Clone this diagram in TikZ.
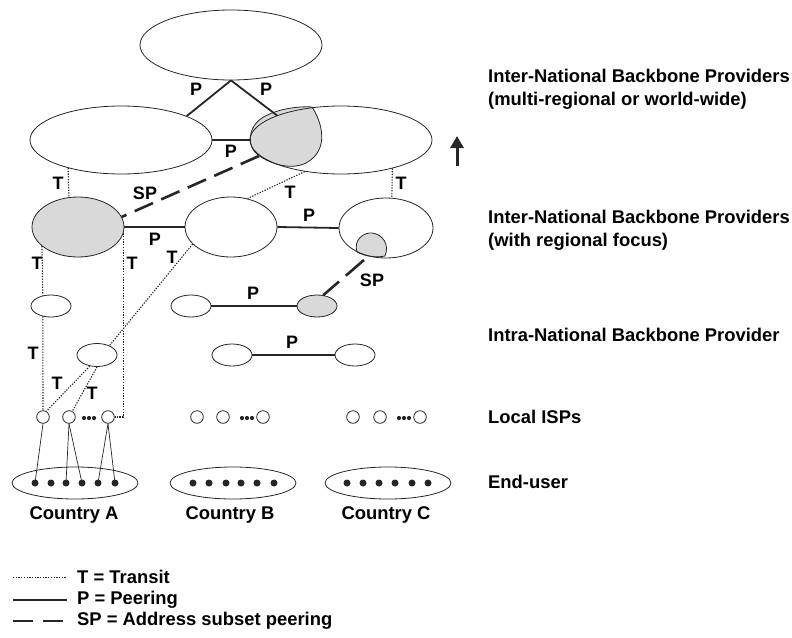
\documentclass[tikz,border=0pt]{standalone}
\usepackage{fontspec}
\setmainfont{Liberation Sans}
\usepackage{tikz}
\usetikzlibrary{shapes.geometric, arrows.meta, positioning, calc}

\definecolor{ink}{HTML}{262626}
\definecolor{shade}{HTML}{D9D9D9}

\begin{document}
\begin{tikzpicture}[
    x=1pt, y=-1pt,
    font=\fontsize{18.4}{23}\selectfont\bfseries,
    prov/.style={ellipse,draw=ink,line width=0.8pt,inner sep=0pt},
    bigprov/.style={prov,minimum width=182pt,minimum height=68pt},
    regprov/.style={prov,minimum width=92pt,minimum height=60pt},
    natprov/.style={prov,minimum width=40pt,minimum height=22pt},
    users/.style={prov,minimum width=126pt,minimum height=32pt},
    isp/.style={circle,draw=ink,line width=0.8pt,minimum size=12.6pt,inner sep=0pt},
    user/.style={circle,fill=ink,minimum size=7pt,inner sep=0pt},
    transit/.style={ink,line width=1.1pt,dash pattern=on 1.3pt off 1.4pt},
    peering/.style={ink,line width=1.8pt},
    subset/.style={ink,line width=2.6pt,dash pattern=on 20pt off 9pt},
    access/.style={ink,line width=0.7pt},
    lbl/.style={inner sep=0pt,font=\fontsize{18}{20}\selectfont\bfseries}
]

\useasboundingbox (0,0) rectangle (792,637);

% Shaded address subsets
\draw[ink,line width=0.8pt,fill=shade] (312,107) .. controls (322,122) and (330,150) .. (306,163)
    .. controls (292,170) and (272,165) .. (258,155) .. controls (247,147) and (247,128) .. (262,118)
    .. controls (276,109) and (298,106) .. (312,107) -- cycle;
\draw[ink,line width=0.8pt,fill=shade] (357,252) .. controls (353,240) and (364,232) .. (372,233)
    .. controls (382,234) and (390,244) .. (385,256) .. controls (376,258) and (364,256) .. (357,252) -- cycle;

% Providers
\node[bigprov,minimum height=70pt] (world) at (231,45) {};
\node[bigprov] (iblA) at (121,140) {};
\node[bigprov] (iblB) at (341,140) {};
\node[regprov,fill=shade] (rgA) at (78,227) {};
\node[regprov] (rgB) at (231,227) {};
\node[regprov,minimum width=94pt] (rgC) at (386,228) {};
\node[natprov] (natA) at (51,306) {};
\node[natprov] (natB1) at (191,306) {};
\node[natprov,fill=shade] (natB2) at (317,306) {};
\node[natprov,minimum height=23pt] (natA2) at (97,355) {};
\node[natprov] (natC1) at (232,355) {};
\node[natprov] (natC2) at (355,355) {};

% Local ISPs
\node[isp] (ispA1) at (43,417) {};
\node[isp] (ispA2) at (69,417) {};
\node[isp] (ispA3) at (108,417) {};
\node[isp] (ispB1) at (197,417) {};
\node[isp] (ispB2) at (223,417) {};
\node[isp] (ispB3) at (263,417) {};
\node[isp] (ispC1) at (353,417) {};
\node[isp] (ispC2) at (380,417) {};
\node[isp] (ispC3) at (420,417) {};
\foreach \x in {84,242,399}
    \foreach \d in {0,5,10}
        \fill[ink] (\x+\d,418) circle (2.1pt);

% End-users
\node[users] (cA) at (75,483) {};
\node[users] (cB) at (233,483) {};
\node[users] (cC) at (388,483) {};
\foreach \x [count=\i] in {35,51,66,82,98,115}
    \node[user] (dA\i) at (\x,483) {};
\foreach \x [count=\i] in {193,209,226,241,257,274}
    \node[user] (dB\i) at (\x,483) {};
\foreach \x [count=\i] in {347,363,379,395,412,428}
    \node[user] (dC\i) at (\x,483) {};

\node (nameA) at (74,515) {Country A};
\node (nameB) at (230,515) {Country B};
\node (nameC) at (386,515) {Country C};

% Peering
\draw[peering] (world.south) -- (iblA.20);
\draw[peering] (world.south) -- (iblB.159);
\draw[peering] (iblA.east) -- (iblB.west);
\draw[peering] (rgA.east) -- (rgB.west);
\draw[peering] (rgB.east) -- (rgC.west);
\draw[peering] (natB1.east) -- (natB2.west);
\draw[peering] (natC1.east) -- (natC2.west);

% Address subset peering
\coordinate (spA) at (259,156);
\coordinate (spC) at (364,260);
\draw[subset] (spA) -- (rgA.13);
\draw[subset,dash pattern=on 24pt off 9pt] (spC) -- (natB2.60);

% Transit
\draw[transit] (iblA.208) -- (rgA.107);
\draw[transit] (iblB.-29) -- (rgC.79);
\draw[transit] (iblB.221) -- (rgB.60);
\draw[transit] (rgA.208) -- (natA.128);
\draw[transit] (natA.232) -- (ispA1.north);
\draw[transit] (rgA.-8) |- (ispA3.east);
\draw[transit] (rgB.204) -- (natA2.37);
\draw[transit] (natA2.237) -- (ispA1.60);
\draw[transit] (natA2.south) -- (ispA2.60);

% Access lines
\draw[access] (ispA1.south) -- (dA1.center);
\draw[access] (ispA2.south) -- (dA3.center);
\draw[access] (ispA2.south) -- (dA4.center);
\draw[access] (ispA3.south) -- (dA5.center);
\draw[access] (ispA3.south) -- (dA6.center);

% Link labels
\node[lbl] (p1) at (196,89) {P};
\node[lbl] (p2) at (266,89) {P};
\node[lbl] (p3) at (231,151) {P};
\node[lbl] (p4) at (155,239) {P};
\node[lbl] (p5) at (309,215) {P};
\node[lbl] (p6) at (253,293) {P};
\node[lbl] (p7) at (292,342) {P};
\node[lbl] (sp1) at (145,193) {SP};
\node[lbl] (sp2) at (372,280) {SP};
\node[lbl] (t1) at (58,183) {T};
\node[lbl] (t2) at (401,183) {T};
\node[lbl] (t3) at (290,192) {T};
\node[lbl] (t4) at (37,263) {T};
\node[lbl] (t5) at (132,263) {T};
\node[lbl] (t6) at (172,257) {T};
\node[lbl] (t7) at (33,353) {T};
\node[lbl] (t8) at (57,383) {T};
\node[lbl] (t9) at (92,393) {T};

% Upward arrow
\coordinate (upA) at (457,166);
\coordinate (upB) at (457,136);
\draw[ink,line width=3pt,-{Triangle[length=12pt,width=13pt]}] (upA) -- (upB);

% Layer names
\node[anchor=west,align=left,inner sep=0pt] (lay1) at (488,89) {Inter-National Backbone Providers\\(multi-regional or world-wide)};
\node[anchor=west,align=left,inner sep=0pt] (lay2) at (488,230) {Inter-National Backbone Providers\\(with regional focus)};
\node[anchor=west,inner sep=0pt] (lay3) at (488,335) {Intra-National Backbone Provider};
\node[anchor=west,inner sep=0pt] (lay4) at (488,417) {Local ISPs};
\node[anchor=west,inner sep=0pt] (lay5) at (488,482) {End-user};

% Legend
\coordinate (lgT1) at (13,577);
\coordinate (lgT2) at (67,577);
\coordinate (lgP1) at (13,600);
\coordinate (lgP2) at (67,600);
\coordinate (lgS1) at (13,621);
\coordinate (lgS2) at (67,621);
\draw[transit,line width=0.8pt] (lgT1) -- (lgT2);
\draw[ink,line width=1.1pt] (lgP1) -- (lgP2);
\draw[subset,line width=2.2pt,dash pattern=on 20pt off 10pt] (lgS1) -- (lgS2);
\node[anchor=west,inner sep=0pt] (lgT) at (77,577) {T = Transit};
\node[anchor=west,inner sep=0pt] (lgP) at (77,600) {P = Peering};
\node[anchor=west,inner sep=0pt] (lgS) at (77,621) {SP = Address subset peering};

\end{tikzpicture}
\end{document}
